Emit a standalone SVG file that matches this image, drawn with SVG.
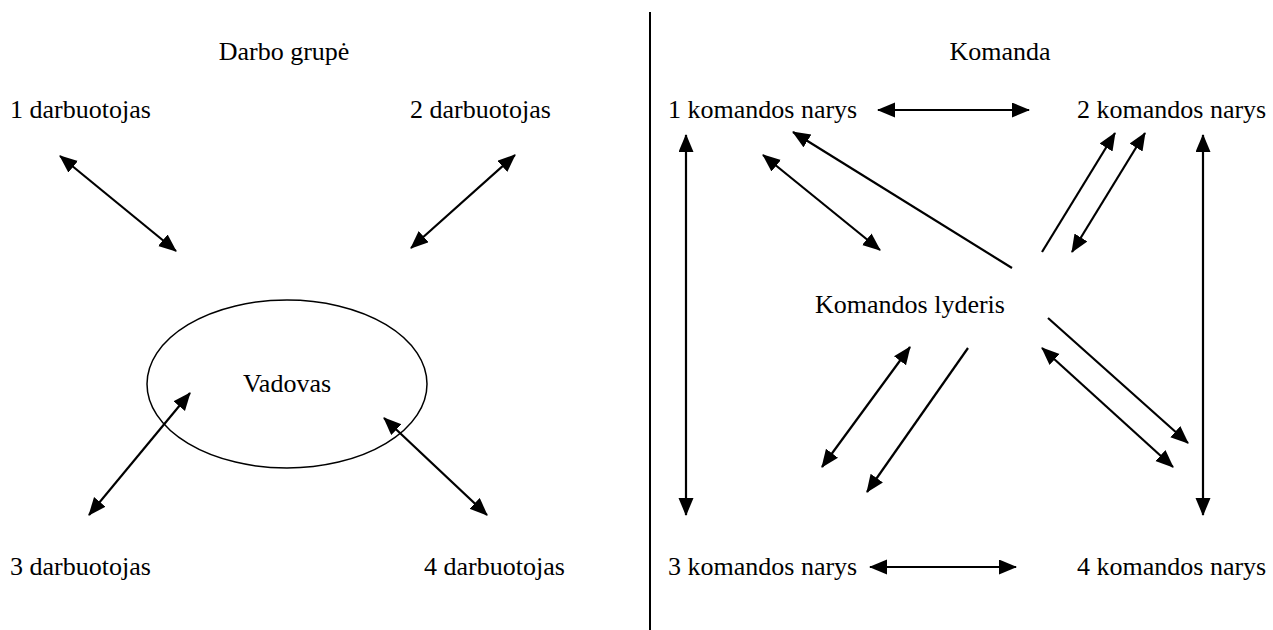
<svg xmlns="http://www.w3.org/2000/svg" width="1273" height="630" viewBox="0 0 1273 630">
  <style>
    text { font-family: "Liberation Serif", "DejaVu Serif", serif; font-size: 26px; fill: #000; }
    .c { text-anchor: middle; }
    .ln { stroke: #000; stroke-width: 2.2; fill: none; }
    .both { marker-start: url(#head); marker-end: url(#head); }
    .one { marker-end: url(#head); }
  </style>
  <defs>
    <marker id="head" markerUnits="userSpaceOnUse" markerWidth="20" markerHeight="16" refX="17" refY="7.5" orient="auto-start-reverse">
      <path d="M0,0 L18,7.5 L0,15 z" fill="#000"/>
    </marker>
  </defs>
  <rect width="1273" height="630" fill="#fff"/>

  <!-- divider between the two halves -->
  <line x1="650" y1="12" x2="650" y2="630" stroke="#000" stroke-width="2"/>

  <!-- left half: working group -->
  <g id="title-group"><text class="c" x="284" y="60">Darbo grupė</text></g>
  <g id="worker1"><text x="10" y="118">1 darbuotojas</text></g>
  <g id="worker2"><text x="410" y="118">2 darbuotojas</text></g>
  <g id="worker3"><text x="10" y="575">3 darbuotojas</text></g>
  <g id="worker4"><text x="424" y="575">4 darbuotojas</text></g>
  <g id="manager">
    <ellipse cx="287" cy="384" rx="140" ry="84" fill="none" stroke="#000" stroke-width="1.5"/>
    <text class="c" x="287" y="392">Vadovas</text>
  </g>

  <!-- right half: team -->
  <g id="title-team"><text class="c" x="1000" y="60">Komanda</text></g>
  <g id="member1"><text x="668" y="118">1 komandos narys</text></g>
  <g id="member2"><text x="1077" y="118">2 komandos narys</text></g>
  <g id="member3"><text x="668" y="575">3 komandos narys</text></g>
  <g id="member4"><text x="1077" y="575">4 komandos narys</text></g>
  <g id="leader"><text x="815" y="313">Komandos lyderis</text></g>

  <g id="connectors">
    <!-- group: manager to each worker -->
    <line class="ln both" x1="60" y1="156" x2="176" y2="251"/>
    <line class="ln both" x1="515" y1="155" x2="411" y2="248"/>
    <line class="ln both" x1="190" y1="393" x2="89" y2="515"/>
    <line class="ln both" x1="384" y1="418" x2="487" y2="515"/>

    <!-- team: members among themselves -->
    <line class="ln both" x1="878" y1="110" x2="1029" y2="110"/>
    <line class="ln both" x1="870" y1="567" x2="1016" y2="567"/>
    <line class="ln both" x1="686" y1="135" x2="686" y2="515"/>
    <line class="ln both" x1="1203" y1="135" x2="1203" y2="515"/>

    <!-- team: leader and members -->
    <line class="ln one" x1="1012" y1="268" x2="793" y2="132"/>
    <line class="ln both" x1="763" y1="155" x2="880" y2="250"/>
    <line class="ln one" x1="1042" y1="252" x2="1115" y2="133"/>
    <line class="ln both" x1="1145" y1="133" x2="1072" y2="252"/>
    <line class="ln both" x1="910" y1="347" x2="822" y2="467"/>
    <line class="ln one" x1="968" y1="348" x2="867" y2="492"/>
    <line class="ln one" x1="1048" y1="318" x2="1188" y2="443"/>
    <line class="ln both" x1="1042" y1="348" x2="1173" y2="467"/>
  </g>
</svg>
